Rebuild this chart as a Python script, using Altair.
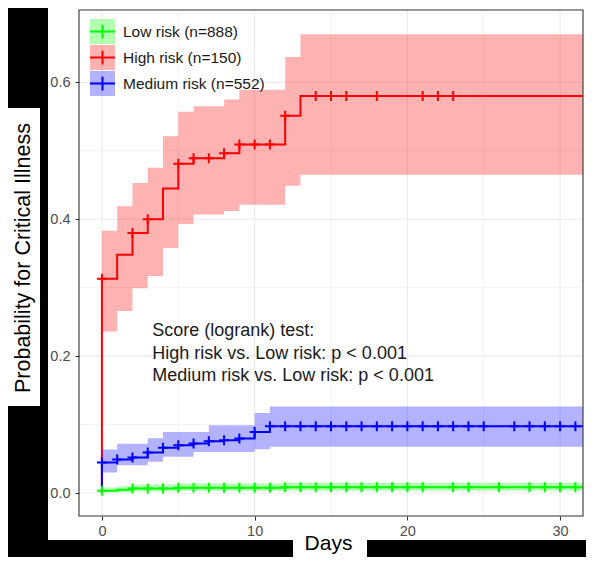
import altair as alt
import pandas as pd

# ---------------- data ----------------
GROUPS = ["Low risk (n=888)", "High risk (n=150)", "Medium risk (n=552)"]
COLORS = ["#00FF00", "#FF0000", "#0000FF"]

# step curves: time of each jump and cumulative incidence after it, with CI
low_t = [0, 1, 2, 5, 12]
low_p = [0.0034, 0.0046, 0.0066, 0.0076, 0.0084]
low_lo = [0.0006, 0.0012, 0.0022, 0.0028, 0.0032]
low_hi = [0.0080, 0.0098, 0.0125, 0.0140, 0.0150]

high_t = [0, 1, 2, 3, 4, 5, 6, 8, 9, 12, 13]
high_p = [0.313, 0.348, 0.380, 0.400, 0.445, 0.481, 0.489, 0.4965, 0.509, 0.551, 0.580]
high_lo = [0.236, 0.266, 0.299, 0.317, 0.358, 0.393, 0.407, 0.412, 0.421, 0.449, 0.465]
high_hi = [0.383, 0.419, 0.453, 0.475, 0.521, 0.557, 0.565, 0.575, 0.589, 0.637, 0.670]

med_t = [0, 1, 2, 3, 4, 5, 6, 7, 8, 9, 10, 11]
med_p = [0.0446, 0.049, 0.052, 0.059, 0.066, 0.0698, 0.0722, 0.0756, 0.077, 0.0795, 0.089, 0.0975]
med_lo = [0.030, 0.0407, 0.0407, 0.0455, 0.053, 0.053, 0.060, 0.060, 0.060, 0.060, 0.064, 0.0674]
med_hi = [0.0635, 0.072, 0.072, 0.080, 0.089, 0.089, 0.089, 0.099, 0.099, 0.099, 0.117, 0.1265]

# censoring times ("+" marks)
low_cens = [0, 2, 3, 4, 5, 6, 7, 8, 9, 10, 11, 12, 13, 14, 15, 16, 17, 18, 19, 20, 21,
            23, 24, 26, 28, 29, 30, 31]
high_cens = [0, 2, 3, 5, 6, 7, 8, 9, 10, 11, 12, 14, 15, 16, 18, 21, 22, 23]
med_cens = [0, 1, 2, 3, 4, 5, 6, 7, 8, 9, 10, 11, 12, 13, 14, 15, 16, 17, 18, 19, 20,
            21, 22, 23, 24, 25, 27, 28, 29, 30, 31]
END_T = 32

X_TICKS = [0, 10, 20, 30]
X_MINOR = [5, 15, 25]
Y_TICKS = [0.0, 0.2, 0.4, 0.6]
Y_MINOR = [0.1, 0.3, 0.5, 0.7]

ANN_LINES = ["Score (logrank) test:",
             "High risk vs. Low risk: p < 0.001",
             "Medium risk vs. Low risk: p < 0.001"]
ANN_X = [3.3, 3.3, 3.3]
ANN_Y = [0.2292, 0.1964, 0.1642]

# ---------------- build tables ----------------
def step_value(times, vals, t):
    v = 0.0
    for ti, vi in zip(times, vals):
        if ti <= t:
            v = vi
    return v

curves = [
    (GROUPS[0], low_t, low_p, low_lo, low_hi, low_cens),
    (GROUPS[1], high_t, high_p, high_lo, high_hi, high_cens),
    (GROUPS[2], med_t, med_p, med_lo, med_hi, med_cens),
]
GROUPS2 = [g + " " for g in GROUPS]

line_rows, band_rows, cens_rows = [], [], []
for g, t, p, lo, hi, cens in curves:
    seq = [(0, 0.0)] + list(zip(t, p)) + [(END_T, p[-1])]
    for i, (ti, pi) in enumerate(seq):
        line_rows.append({"grp2": g + " ", "t": ti, "p": pi, "idx": i})
    for ti, l, h in list(zip(t, lo, hi)) + [(END_T, lo[-1], hi[-1])]:
        band_rows.append({"grp": g, "t": ti, "lo": l, "hi": h})
    for c in cens:
        cens_rows.append({"grp2": g + " ", "t": c, "p": step_value(t, p, c)})

line_df = pd.DataFrame(line_rows)
band_df = pd.DataFrame(band_rows)
cens_df = pd.DataFrame(cens_rows)
ann_df = pd.DataFrame({"text": ANN_LINES, "x": ANN_X, "y": ANN_Y})
one = pd.DataFrame({"k": [0]})

# ---------------- scales / axes / legends ----------------
W, H = 504, 506
FONT = "Liberation Sans"
x_scale = alt.Scale(domain=[-1.5, 31.5], nice=False, zero=False)
y_scale = alt.Scale(domain=[-0.0336, 0.7056], nice=False, zero=False)

x_axis = alt.Axis(values=X_TICKS, format="d", grid=False, domain=False, title=None,
                  tickColor="#333333", tickSize=4, tickWidth=1,
                  labelColor="#4D4D4D", labelFont=FONT, labelFontSize=14.5,
                  labelPadding=4, zindex=1)
y_axis = alt.Axis(values=Y_TICKS, format=".1f", grid=False, domain=False, title=None,
                  tickColor="#333333", tickSize=4, tickWidth=1,
                  labelColor="#4D4D4D", labelFont=FONT, labelFontSize=14.5,
                  labelPadding=5, zindex=1)

LEG_X, LEG_Y = 10, 9
fill_legend = alt.Legend(orient="none", legendX=LEG_X, legendY=LEG_Y, title=None, padding=0,
                         symbolType="square", symbolSize=625, symbolOpacity=0.3,
                         symbolStrokeColor="transparent", symbolStrokeWidth=2,
                         labelFont=FONT, labelFontSize=15.5, labelColor="#1A1A1A",
                         labelOffset=7, rowPadding=1, clipHeight=25, zindex=1)
CROSS_KEY = "M-1,-1M1,1M-1,0H1M0,-0.55V0.55"
stroke_legend = alt.Legend(orient="none", legendX=LEG_X, legendY=LEG_Y, title=None, padding=0,
                           symbolType=CROSS_KEY, symbolSize=625, symbolOpacity=1,
                           symbolStrokeWidth=2, symbolFillColor="transparent",
                           labelFont=FONT, labelFontSize=15.5, labelOpacity=0,
                           labelOffset=7, rowPadding=1, clipHeight=25, zindex=2)

fill_scale = alt.Scale(domain=GROUPS, range=COLORS)
stroke_scale = alt.Scale(domain=GROUPS2, range=COLORS)

X = lambda f: alt.X(f, scale=x_scale, axis=x_axis)
Y = lambda f: alt.Y(f, scale=y_scale, axis=y_axis)

# ---------------- decorative page pieces ----------------
card = alt.Chart(one).mark_rect(fill="white").encode(
    x=alt.value(-31), x2=alt.value(512), y=alt.value(-8), y2=alt.value(530))
ybox = alt.Chart(one).mark_rect(fill="white").encode(
    x=alt.value(-75), x2=alt.value(-39), y=alt.value(98), y2=alt.value(396))
xbox = alt.Chart(one).mark_rect(fill="white").encode(
    x=alt.value(214), x2=alt.value(288), y=alt.value(530), y2=alt.value(560))

# ---------------- grid ----------------
gv_major = alt.Chart(pd.DataFrame({"v": X_TICKS})).mark_rule(color="#EBEBEB", strokeWidth=1.1).encode(x=X("v:Q"))
gv_minor = alt.Chart(pd.DataFrame({"v": X_MINOR})).mark_rule(color="#EBEBEB", strokeWidth=0.6).encode(x=X("v:Q"))
gh_major = alt.Chart(pd.DataFrame({"v": Y_TICKS})).mark_rule(color="#EBEBEB", strokeWidth=1.1).encode(y=Y("v:Q"))
gh_minor = alt.Chart(pd.DataFrame({"v": Y_MINOR})).mark_rule(color="#EBEBEB", strokeWidth=0.6).encode(y=Y("v:Q"))

# ---------------- data marks ----------------
lines = alt.Chart(line_df).mark_line(interpolate="step-after", strokeWidth=2, clip=True).encode(
    x=X("t:Q"), y=Y("p:Q"),
    stroke=alt.Stroke("grp2:N", scale=stroke_scale, legend=stroke_legend),
    order=alt.Order("idx:Q"))

bands = alt.Chart(band_df).mark_area(interpolate="step-after", opacity=0.3, clip=True).encode(
    x=X("t:Q"), y=Y("lo:Q"), y2="hi:Q",
    fill=alt.Fill("grp:N", scale=fill_scale, legend=fill_legend))

points = alt.Chart(cens_df).mark_point(shape="M-1,0H1M0,-1V1", size=100, filled=False,
                                       strokeWidth=2, opacity=1, clip=True).encode(
    x=X("t:Q"), y=Y("p:Q"),
    stroke=alt.Stroke("grp2:N", scale=stroke_scale, legend=stroke_legend))

ann = alt.Chart(ann_df).mark_text(align="left", baseline="alphabetic", font=FONT,
                                  fontSize=18, color="#1A1A1A").encode(
    x=X("x:Q"), y=Y("y:Q"), text="text:N")

ytitle = alt.Chart(one).mark_text(text="Probability for Critical Illness", angle=270,
                                  align="center", baseline="alphabetic", font=FONT,
                                  fontSize=21.5, color="black").encode(
    x=alt.value(-49.5), y=alt.value(248))
xtitle = alt.Chart(one).mark_text(text="Days", align="center", baseline="alphabetic",
                                  font=FONT, fontSize=21, color="black").encode(
    x=alt.value(249.5), y=alt.value(540))

border = alt.Chart(one).mark_rect(fill="transparent", stroke="#333333", strokeWidth=1.1).encode(
    x=alt.value(0), x2=alt.value(W), y=alt.value(0), y2=alt.value(H))

chart = alt.layer(
    card, ybox, xbox, gv_minor, gh_minor, gv_major, gh_major,
    lines, bands, points, ann, ytitle, xtitle, border
).properties(
    width=W, height=H,
    padding={"left": 71, "top": 2, "right": 3, "bottom": 41},
    autosize=alt.AutoSizeParams(type="none"),
).configure(background="black").configure_view(stroke="transparent")

chart.save("out.html", embed_options={"renderer": "svg", "actions": False})
